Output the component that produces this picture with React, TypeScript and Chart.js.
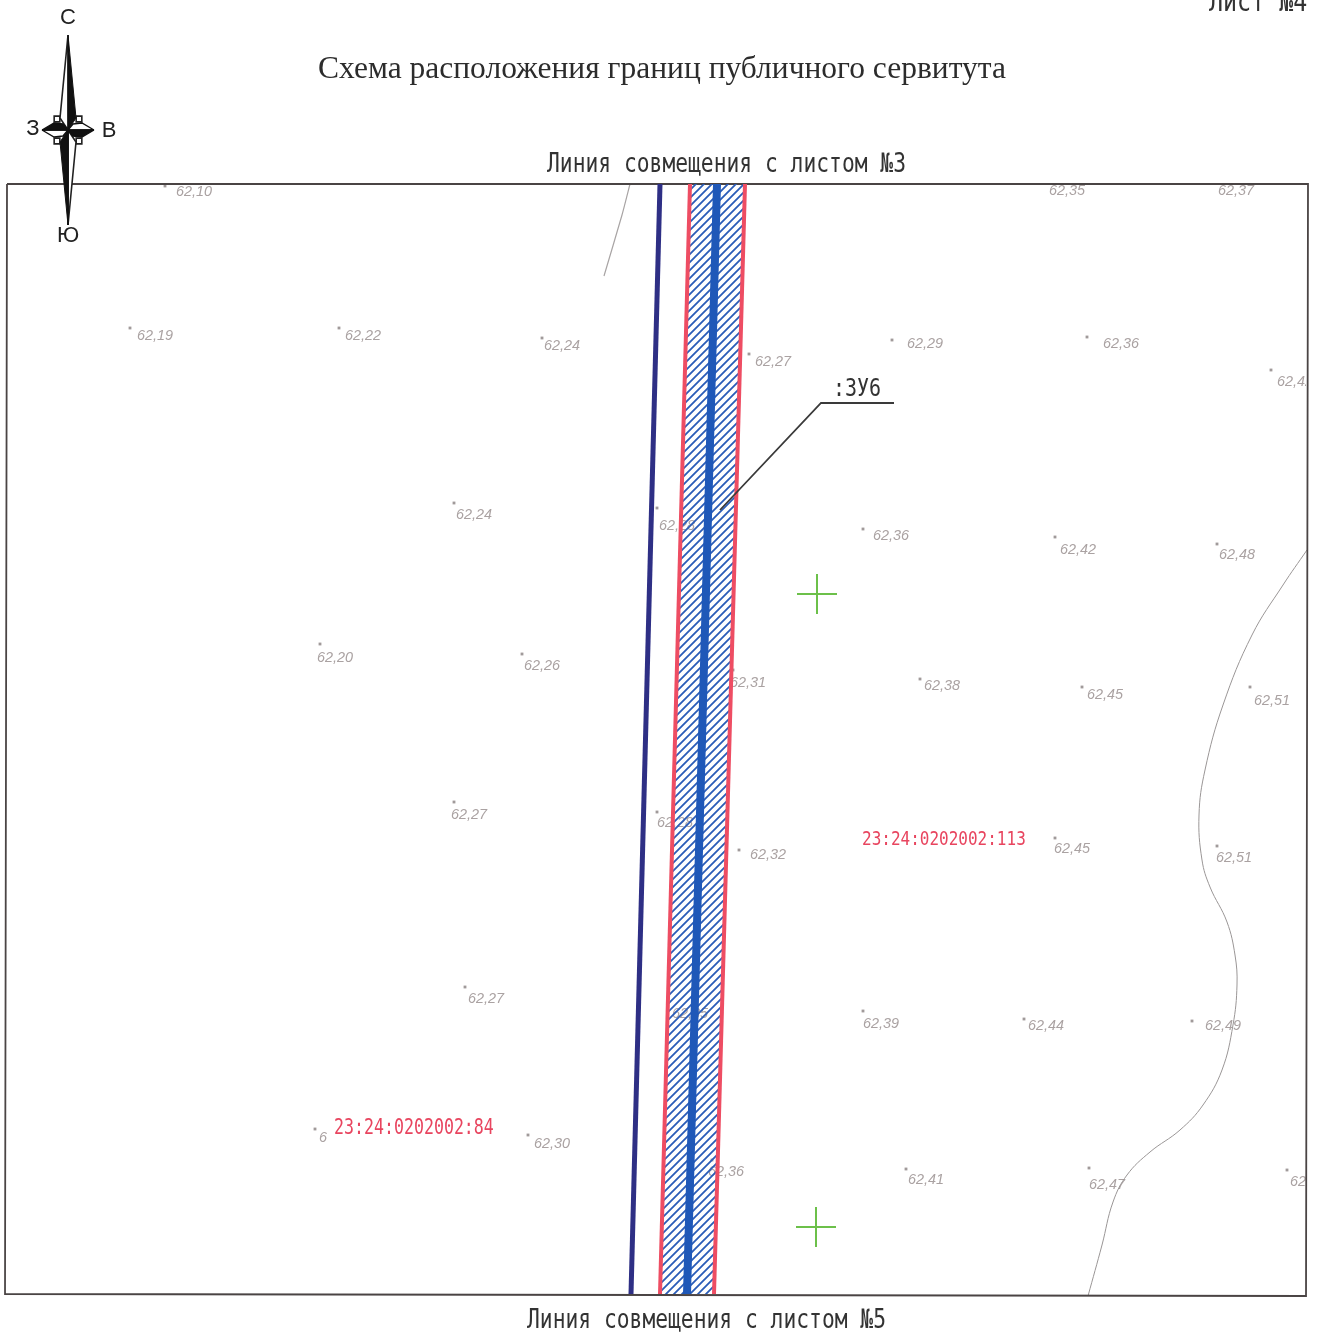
import React, { useEffect, useRef } from "react";
import { Chart, registerables } from "chart.js";

Chart.register(...registerables);

type Pt = { x: number; y: number };
const pts = (a: number[][]): Pt[] => a.map(([x, y]) => ({ x, y }));

const frameLine = pts([[7, 184], [1308, 184], [1306, 1296], [5, 1294], [7, 184]]);
const navyCable = pts([[660, 184], [631, 1294]]);
const blueCable = pts([[717, 184], [687, 1294]]);
const servitudeStrip = pts([[690, 184], [745, 184], [714, 1294], [660, 1294], [690, 184]]);
const stripLeftEdge = pts([[690, 184], [660, 1294]]);
const stripRightEdge = pts([[745, 184], [714, 1294]]);
const ditchShort = pts([[630, 184], [622, 215], [604, 276]]);
const ditchCurve = pts([[1307, 550], [1283, 585], [1252, 635], [1223, 705], [1205, 770], [1199, 815], [1202, 860], [1210, 887], [1227, 922], [1235, 955], [1237, 985], [1233, 1025], [1222, 1070], [1203, 1105], [1180, 1130], [1150, 1152], [1127, 1175], [1113, 1202], [1102, 1245], [1088, 1296]]);
const leaderLine = pts([[720, 510], [821, 403], [894, 403]]);
const crossMarks = pts([[817, 594], [816, 1227]]);

const spotMarkers = pts([[165, 186], [130, 328], [339, 328], [542, 338], [749, 354], [892, 340], [1087, 337], [1271, 370], [454, 503], [657, 508], [863, 529], [1055, 537], [1217, 544], [320, 644], [522, 654], [733, 670], [920, 679], [1082, 687], [1250, 687], [454, 802], [657, 812], [739, 850], [1055, 838], [1217, 846], [465, 987], [863, 1011], [1024, 1019], [1192, 1021], [315, 1129], [528, 1135], [712, 1160], [906, 1169], [1089, 1168], [1287, 1170]]);
const spotTexts = ["62,10", "62,19", "62,22", "62,24", "62,27", "62,29", "62,36", "62,42", "62,24", "62,28", "62,36", "62,42", "62,48", "62,20", "62,26", "62,31", "62,38", "62,45", "62,51", "62,27", "62,28", "62,32", "62,45", "62,51", "62,27", "62,39", "62,44", "62,49", "6", "62,30", "62,36", "62,41", "62,47", "62,43", "62,35", "62,35", "62,37"];
const spotTextPos = [[176, 191], [137, 335], [345, 335], [544, 345], [755, 361], [907, 343], [1103, 343], [1277, 381], [456, 514], [659, 525], [873, 535], [1060, 549], [1219, 554], [317, 657], [524, 665], [730, 682], [924, 685], [1087, 694], [1254, 700], [451, 814], [657, 822], [750, 854], [1054, 848], [1216, 857], [468, 998], [863, 1023], [1028, 1025], [1205, 1025], [319, 1137], [534, 1143], [708, 1171], [908, 1179], [1089, 1184], [1290, 1181], [672, 1013], [1049, 190], [1218, 190]];

const compassNorthBlack = pts([[68, 35], [76, 118], [68, 130], [68, 35]]);
const compassNorthWhite = pts([[68, 35], [60, 118], [68, 130], [68, 35]]);
const compassSouthBlack = pts([[68, 225], [60, 142], [68, 130], [68, 225]]);
const compassSouthWhite = pts([[68, 225], [76, 142], [68, 130], [68, 225]]);
const compassWestBlack = pts([[42, 130], [54, 123], [63, 124], [68, 130], [42, 130]]);
const compassWestWhite = pts([[42, 130], [54, 137], [63, 136], [68, 130], [42, 130]]);
const compassEastBlack = pts([[94, 130], [82, 137], [73, 136], [68, 130], [94, 130]]);
const compassEastWhite = pts([[94, 130], [82, 123], [73, 124], [68, 130], [94, 130]]);
const compassStuds = pts([[57, 119], [79, 119], [57, 141], [79, 141]]);

const compassLetters = [["С", 68, 18], ["З", 33, 129], ["В", 109, 131], ["Ю", 68, 236]];
const titleText = "Схема расположения границ публичного сервитута";
const sheetText = "Лист №4";
const topMatch = "Линия совмещения с листом №3";
const bottomMatch = "Линия совмещения с листом №5";
const parcelLabel = ":ЗУ6";
const cadastreLabels = [["23:24:0202002:113", 862, 840, 16], ["23:24:0202002:84", 334, 1129, 16.6]];

const MONO = '"DejaVu Sans Mono", monospace';

function hatchPattern(): CanvasPattern | string {
  const c = document.createElement("canvas");
  c.width = 8;
  c.height = 8;
  const g = c.getContext("2d")!;
  g.strokeStyle = "#2a5cb8";
  g.lineWidth = 1.8;
  g.beginPath();
  g.moveTo(-2, 10); g.lineTo(10, -2);
  g.moveTo(-2, 2); g.lineTo(2, -2);
  g.moveTo(6, 10); g.lineTo(10, 6);
  g.stroke();
  return g.createPattern(c, "repeat") ?? "#2a5cb8";
}

export default function App() {
  const ref = useRef<HTMLCanvasElement>(null);
  useEffect(() => {
    const line = (data: Pt[], color: string, width: number, extra: object = {}) => ({
      type: "scatter" as const, data, showLine: true, borderColor: color, borderWidth: width,
      pointRadius: 0, backgroundColor: color, fill: false, ...extra,
    });
    const shape = (data: Pt[], fill: string | CanvasPattern, stroke: string, width: number) =>
      line(data, stroke, width, { fill: "shape", backgroundColor: fill });

    const underLabels = {
      id: "underLabels",
      beforeDatasetsDraw(chart: Chart) {
        const { ctx, scales } = chart;
        const X = scales.x, Y = scales.y;
        ctx.save();
        ctx.beginPath();
        ctx.rect(X.getPixelForValue(7), Y.getPixelForValue(184), X.getPixelForValue(1299), Y.getPixelForValue(1112));
        ctx.clip();
        ctx.font = 'italic 14.4px "Liberation Sans"';
        ctx.fillStyle = "#aaa2a2";
        ctx.textBaseline = "middle";
        ctx.textAlign = "left";
        spotTexts.forEach((t, i) => {
          const [x, y] = spotTextPos[i];
          ctx.fillText(t, X.getPixelForValue(x), Y.getPixelForValue(y + 1));
        });
        ctx.restore();
      },
    };

    const overLabels = {
      id: "overLabels",
      afterDatasetsDraw(chart: Chart) {
        const { ctx, scales } = chart;
        const X = scales.x, Y = scales.y;
        const put = (t: string, x: number, y: number, font: string, color: string, align: CanvasTextAlign = "left", sy = 1) => {
          ctx.save();
          ctx.font = font;
          ctx.fillStyle = color;
          ctx.textAlign = align;
          ctx.textBaseline = "middle";
          ctx.translate(X.getPixelForValue(x), Y.getPixelForValue(y));
          ctx.scale(1, sy);
          ctx.fillText(t, 0, 0);
          ctx.restore();
        };
        ctx.save();
        compassLetters.forEach(([t, x, y]) => put(t as string, x as number, y as number, '22px "Liberation Sans"', "#222", "center"));
        put(titleText, 318, 70, '31.5px "Liberation Serif"', "#2c2c2c");
        put(sheetText, 1209, 3, `23.3px ${MONO}`, "#333", "left", 1.25);
        put(topMatch, 547, 165, `21.3px ${MONO}`, "#333", "left", 1.25);
        put(bottomMatch, 527, 1321, `21.3px ${MONO}`, "#333", "left", 1.25);
        put(parcelLabel, 833, 389, `20px ${MONO}`, "#333", "left", 1.25);
        cadastreLabels.forEach(([t, x, y, s]) => put(t as string, x as number, y as number, `${s}px ${MONO}`, "#e8455f", "left", 1.25));
        ctx.restore();
      },
    };

    const chart = new Chart(ref.current!, {
      type: "scatter",
      data: {
        datasets: [
          shape(compassWestBlack, "#111", "#111", 1.4),
          shape(compassEastBlack, "#111", "#111", 1.4),
          shape(compassWestWhite, "#fff", "#111", 1.4),
          shape(compassEastWhite, "#fff", "#111", 1.4),
          shape(compassNorthBlack, "#111", "#111", 1),
          shape(compassSouthBlack, "#111", "#111", 1),
          shape(compassNorthWhite, "#fff", "#222", 1.6),
          shape(compassSouthWhite, "#fff", "#222", 1.6),
          { type: "scatter", data: compassStuds, pointStyle: "rect", pointRadius: 4, borderColor: "#222", borderWidth: 1.6, backgroundColor: "#fff", showLine: false },
          line(leaderLine, "#3a3a3a", 1.8),
          { type: "scatter", data: crossMarks, pointStyle: "cross", pointRadius: 20, borderColor: "#6cc04a", borderWidth: 2, showLine: false },
          line(blueCable, "#1f58b8", 8),
          line(stripLeftEdge, "#ee4d63", 4),
          line(stripRightEdge, "#ee4d63", 4),
          shape(servitudeStrip, hatchPattern(), "rgba(0,0,0,0)", 0),
          line(navyCable, "#2e2f85", 5),
          line(frameLine, "#4a4444", 1.8),
          line(ditchShort, "#a8a4a4", 1.2, { tension: 0.2 }),
          line(ditchCurve, "#9a9696", 1, { tension: 0.4 }),
          { type: "scatter", data: spotMarkers, pointStyle: "rect", pointRadius: 2, borderWidth: 0, backgroundColor: "#a09a9a", showLine: false },
        ] as any,
      },
      options: {
        animation: false,
        responsive: false,
        devicePixelRatio: 1,
        layout: { padding: 0, autoPadding: false },
        plugins: { legend: { display: false }, tooltip: { enabled: false }, title: { display: false } },
        scales: {
          x: { type: "linear", min: 0, max: 1318, display: false },
          y: { type: "linear", min: 0, max: 1332, reverse: true, display: false },
        },
      },
      plugins: [underLabels, overLabels],
    });
    return () => chart.destroy();
  }, []);
  return (
    <canvas
      ref={ref}
      width={1318}
      height={1332}
      style={{ position: "absolute", left: 0, top: 0, width: 1318, height: 1332, background: "#fff" }}
    />
  );
}
